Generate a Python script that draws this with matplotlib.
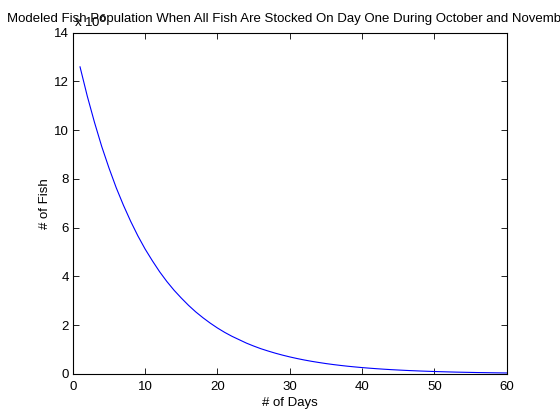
import matplotlib
matplotlib.use("Agg")
import matplotlib.pyplot as plt

days = list(range(1, 61))
fish_millions = [12.60, 11.40, 10.32, 9.33, 8.45, 7.64, 6.92, 6.26, 5.66, 5.12,
                 4.64, 4.19, 3.79, 3.43, 3.11, 2.81, 2.54, 2.30, 2.08, 1.88,
                 1.70, 1.54, 1.40, 1.26, 1.14, 1.03, 0.935, 0.846, 0.766, 0.693,
                 0.627, 0.567, 0.513, 0.465, 0.420, 0.380, 0.344, 0.311, 0.282, 0.255,
                 0.231, 0.209, 0.189, 0.171, 0.155, 0.140, 0.127, 0.115, 0.104, 0.094,
                 0.085, 0.077, 0.069, 0.063, 0.057, 0.051, 0.047, 0.042, 0.038, 0.034]
fish = [v * 1e6 for v in fish_millions]

xticks = [0, 10, 20, 30, 40, 50, 60]
yticks_m = [0, 2, 4, 6, 8, 10, 12, 14]

plt.rcParams['font.family'] = ['Liberation Sans', 'DejaVu Sans']
fs = 9.5

fig = plt.figure(figsize=(5.6, 4.2), dpi=100)
ax = fig.add_axes([0.13, 0.11, 0.775, 0.812])
ax.plot(days, fish, color=(0, 0, 1), lw=0.8)
ax.set_xlim(0, 60)
ax.set_ylim(0, 14e6)
ax.set_xticks(xticks)
ax.set_xticklabels([str(t) for t in xticks], fontsize=fs)
ax.set_yticks([t * 1e6 for t in yticks_m])
ax.set_yticklabels([str(t) for t in yticks_m], fontsize=fs)
ax.tick_params(direction='in', length=4.5, width=0.6, top=True, right=True)
ax.tick_params(axis='x', pad=5)
ax.tick_params(axis='y', pad=3)
for s in ax.spines.values():
    s.set_linewidth(0.8)
ax.set_xlabel('# of Days', fontsize=fs, labelpad=3)
ax.set_ylabel('# of Fish', fontsize=fs, labelpad=2)
ax.text(0.002, 1.008, r'x 10$^{6}$', transform=ax.transAxes, fontsize=fs,
        ha='left', va='bottom')
ax.set_title('Modeled Fish Population When All Fish Are Stocked On Day One During October and November',
             fontsize=fs, pad=8)
fig.savefig('out.png', dpi=100)
